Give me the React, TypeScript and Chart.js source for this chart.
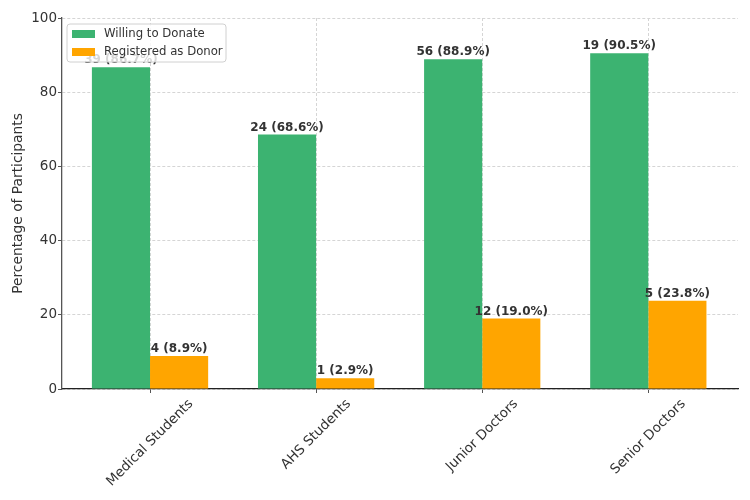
import React, { useEffect, useRef } from "react";
import { Chart, registerables } from "chart.js";

Chart.register(...registerables);

const categories = ["Medical Students", "AHS Students", "Junior Doctors", "Senior Doctors"];
const willingPct = [86.7, 68.6, 88.9, 90.5];
const willingCount = [39, 24, 56, 19];
const registeredPct = [8.9, 2.9, 19.0, 23.8];
const registeredCount = [4, 1, 12, 5];
const seriesNames = ["Willing to Donate", "Registered as Donor"];
const yTicks = [0, 20, 40, 60, 80, 100];

const GREEN = "#3cb371";
const ORANGE = "#ffa500";
const FONT = "'DejaVu Sans', sans-serif";
const TEXT = "#333333";
const SPINE = "#555555";

const labelPlugin = {
  id: "barLabels",
  afterDatasetsDraw(chart: any) {
    const ctx = chart.ctx;
    const counts = [willingCount, registeredCount];
    ctx.save();
    ctx.font = `bold 12px ${FONT}`;
    ctx.fillStyle = TEXT;
    ctx.textAlign = "center";
    ctx.textBaseline = "bottom";
    chart.data.datasets.forEach((ds: any, di: number) => {
      const meta = chart.getDatasetMeta(di);
      meta.data.forEach((bar: any, i: number) => {
        const v = ds.data[i].y;
        const txt = `${counts[di][i]} (${Number(v).toFixed(1)}%)`;
        ctx.fillText(txt, bar.x, bar.y - 1);
      });
    });
    ctx.restore();
  },
};

const xLabelPlugin = {
  id: "xLabels",
  afterDraw(chart: any) {
    const ctx = chart.ctx;
    const xs = chart.scales.x;
    const top = chart.chartArea.bottom + 8;
    ctx.save();
    ctx.font = `13.5px ${FONT}`;
    ctx.fillStyle = TEXT;
    ctx.textAlign = "center";
    ctx.textBaseline = "middle";
    categories.forEach((c, i) => {
      const w = ctx.measureText(c).width;
      const h = 13.5;
      const half = ((w + h) * Math.SQRT1_2) / 2;
      const cx = xs.getPixelForValue(i);
      const cy = top + half;
      ctx.save();
      ctx.translate(cx, cy);
      ctx.rotate(-Math.PI / 4);
      ctx.fillText(c, 0, 0);
      ctx.restore();
    });
    ctx.restore();
  },
};

const legendPlugin = {
  id: "innerLegend",
  afterDraw(chart: any) {
    const ctx = chart.ctx;
    const { left, top } = chart.chartArea;
    const x = left + 5;
    const y = top + 6;
    const w = 159;
    const h = 38;
    ctx.save();
    ctx.beginPath();
    const r = 3;
    ctx.moveTo(x + r, y);
    ctx.lineTo(x + w - r, y);
    ctx.quadraticCurveTo(x + w, y, x + w, y + r);
    ctx.lineTo(x + w, y + h - r);
    ctx.quadraticCurveTo(x + w, y + h, x + w - r, y + h);
    ctx.lineTo(x + r, y + h);
    ctx.quadraticCurveTo(x, y + h, x, y + h - r);
    ctx.lineTo(x, y + r);
    ctx.quadraticCurveTo(x, y, x + r, y);
    ctx.closePath();
    ctx.fillStyle = "rgba(255,255,255,0.8)";
    ctx.fill();
    ctx.strokeStyle = "#d0d0d0";
    ctx.lineWidth = 1;
    ctx.stroke();
    const colors = [GREEN, ORANGE];
    ctx.font = `11.7px ${FONT}`;
    ctx.textBaseline = "middle";
    ctx.textAlign = "left";
    seriesNames.forEach((name, i) => {
      const cy = y + 10 + i * 18;
      ctx.fillStyle = colors[i];
      ctx.fillRect(x + 5, cy - 4, 23, 8);
      ctx.fillStyle = TEXT;
      ctx.fillText(name, x + 37, cy);
    });
    ctx.restore();
  },
};

export default function App() {
  const ref = useRef<HTMLCanvasElement>(null);
  useEffect(() => {
    if (!ref.current) return;
    const chart = new Chart(ref.current, {
      type: "bar",
      data: {
        datasets: [
          {
            label: seriesNames[0],
            data: willingPct.map((v, i) => ({ x: i, y: v })),
            backgroundColor: GREEN,
          },
          {
            label: seriesNames[1],
            data: registeredPct.map((v, i) => ({ x: i, y: v })),
            backgroundColor: ORANGE,
          },
        ],
      },
      options: {
        responsive: false,
        animation: false,
        layout: { padding: { top: 18, right: 12, left: 0, bottom: 0 } },
        datasets: { bar: { categoryPercentage: 0.7, barPercentage: 1.0 } },
        plugins: { legend: { display: false }, tooltip: { enabled: false } },
        scales: {
          x: {
            type: "linear",
            offset: false,
            min: -0.53,
            max: 3.54,
            afterFit(scale: any) {
              scale.height = 111;
            },
            afterBuildTicks(scale: any) {
              scale.ticks = categories.map((_, i) => ({ value: i }));
            },
            grid: {
              offset: false,
              color: "#d5d5d5",
              tickColor: SPINE,
              tickLength: 4,
              tickBorderDash: [],
            } as any,
            border: { display: true, color: "#222222", width: 1.2, dash: [3, 2] } as any,
            ticks: {
              display: false,
            },
          },
          y: {
            min: 0,
            max: 100,
            afterFit(scale: any) {
              scale.width = 62;
            },
            afterBuildTicks(scale: any) {
              scale.ticks = yTicks.map((v) => ({ value: v }));
            },
            grid: {
              color: "#d5d5d5",
              tickColor: SPINE,
              tickLength: 4,
              tickBorderDash: [],
            } as any,
            border: { display: true, color: SPINE, width: 1.3, dash: [3, 2] } as any,
            ticks: {
              color: TEXT,
              font: { family: FONT, size: 13.5 },
              padding: 1,
            },
            title: {
              display: true,
              text: "Percentage of Participants",
              color: TEXT,
              font: { family: FONT, size: 13.8 },
              padding: { top: 10, bottom: 0 },
            },
          },
        },
      },
      plugins: [labelPlugin, xLabelPlugin, legendPlugin],
    });
    return () => chart.destroy();
  }, []);
  return (
    <div style={{ position: "absolute", left: 0, top: 0, width: 750, height: 500, background: "#fff" }}>
      <canvas ref={ref} width={750} height={500} style={{ display: "block" }} />
    </div>
  );
}
